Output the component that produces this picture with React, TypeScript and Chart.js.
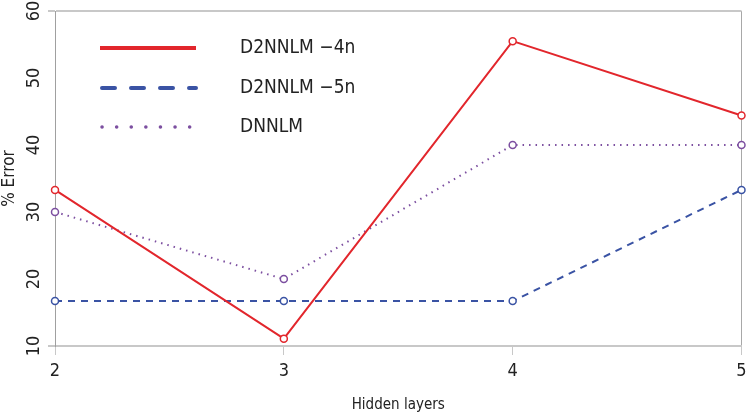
import React, { useEffect, useRef } from "react";
import { Chart, registerables } from "chart.js";

Chart.register(...registerables);

const categories = ["2", "3", "4", "5"];
const d2nnlm4n = [33.3, 11.1, 55.5, 44.4];
const d2nnlm5n = [16.7, 16.7, 16.7, 33.3];
const dnnlm = [30, 20, 40, 40];
const yTicks = [10, 20, 30, 40, 50, 60];
const seriesNames = ["D2NNLM \u22124n", "D2NNLM \u22125n", "DNNLM"];

const RED = "#e2262c";
const BLUE = "#3a53a4";
const PURPLE = "#7c4fa0";
const FONT = "'DejaVu Sans Condensed', 'Open Sans', sans-serif";

export default function App() {
  const ref = useRef<HTMLCanvasElement | null>(null);

  useEffect(() => {
    if (!ref.current) return;

    const framePlugin = {
      id: "framePlugin",
      afterDraw(chart: any) {
        const ctx = chart.ctx;
        const area = chart.chartArea;
        const ys = chart.scales.y;
        ctx.save();
        // y tick labels rotated
        ctx.fillStyle = "#222";
        ctx.font = `18px ${FONT}`;
        ctx.textAlign = "center";
        ctx.textBaseline = "middle";
        yTicks.forEach((v) => {
          const py = ys.getPixelForValue(v);
          ctx.save();
          ctx.translate(34, py);
          ctx.rotate(-Math.PI / 2);
          ctx.fillText(String(v), 0, 0);
          ctx.restore();
        });
        // legend
        const lx0 = area.left + 45;
        const lx1 = area.left + 141;
        const tx = area.left + 185;
        const rows = [
          { y: 48, color: RED, dash: [] as number[], width: 4, cap: "butt" },
          { y: 88, color: BLUE, dash: [13, 16], width: 4, cap: "round" },
          { y: 127, color: PURPLE, dash: [0.1, 14.5], width: 3.5, cap: "round" },
        ];
        rows.forEach((r, i) => {
          ctx.beginPath();
          ctx.strokeStyle = r.color;
          ctx.lineWidth = r.width;
          ctx.lineCap = r.cap;
          ctx.setLineDash(r.dash);
          ctx.moveTo(lx0 + (r.cap === "round" ? 2 : 0), r.y);
          ctx.lineTo(lx1, r.y);
          ctx.stroke();
          ctx.setLineDash([]);
          ctx.fillStyle = "#222";
          ctx.font = `19px ${FONT}`;
          ctx.textAlign = "left";
          ctx.textBaseline = "middle";
          ctx.fillText(seriesNames[i], tx, r.y);
        });
        ctx.restore();
      },
    };

    const chart = new Chart(ref.current, {
      type: "line",
      data: {
        labels: categories,
        datasets: [
          {
            label: seriesNames[0],
            data: d2nnlm4n,
            borderColor: RED,
            borderWidth: 2,
            pointRadius: 3.5,
            pointBorderWidth: 1.5,
            pointBackgroundColor: "#fff",
            pointBorderColor: RED,
            tension: 0,
          },
          {
            label: seriesNames[1],
            data: d2nnlm5n,
            borderColor: BLUE,
            borderWidth: 2,
            borderDash: [7, 6],
            pointRadius: 3.5,
            pointBorderWidth: 1.5,
            pointBackgroundColor: "#fff",
            pointBorderColor: BLUE,
            tension: 0,
          },
          {
            label: seriesNames[2],
            data: dnnlm,
            borderColor: PURPLE,
            borderWidth: 2,
            borderDash: [1.5, 5],
            pointRadius: 3.5,
            pointBorderWidth: 1.5,
            pointBackgroundColor: "#fff",
            pointBorderColor: PURPLE,
            tension: 0,
          },
        ],
      },
      options: {
        responsive: false,
        animation: false,
        devicePixelRatio: 1,
        clip: false,
        layout: { padding: { top: 11, right: 4, left: 0, bottom: 0 } },
        plugins: {
          legend: { display: false },
          tooltip: { enabled: false },
        },
        scales: {
          x: {
            type: "category",
            offset: false,
            border: { display: true, color: "#c8c8c8", width: 2 },
            grid: {
              drawOnChartArea: true,
              color: (c: any) =>
                c.index === categories.length - 1 ? "#a8a8a8" : "rgba(0,0,0,0)",
              tickColor: "#c8c8c8",
              tickLength: 9,
              lineWidth: 1,
            },
            ticks: {
              color: "#222",
              font: { family: FONT, size: 18 },
              padding: 6,
              maxRotation: 0,
            },
            title: {
              display: true,
              text: "Hidden layers",
              color: "#222",
              font: { family: FONT, size: 15 },
              padding: { top: 0, bottom: 3 },
            },
            afterFit: (s: any) => {
              s.height = 71;
              s.paddingRight = 0;
              s.paddingLeft = 0;
            },
          },
          y: {
            min: 10,
            max: 60,
            border: { display: true, color: "#a0a0a0", width: 1 },
            grid: {
              drawOnChartArea: true,
              color: (c: any) =>
                c.tick && (c.tick.value === 10 || c.tick.value === 60)
                  ? "#c8c8c8"
                  : "rgba(0,0,0,0)",
              tickColor: (c: any) =>
                c.tick && (c.tick.value === 10 || c.tick.value === 60)
                  ? "#c8c8c8"
                  : "rgba(0,0,0,0)",
              tickLength: 7,
              lineWidth: 2,
            },
            ticks: {
              stepSize: 10,
              display: false,
            },
            title: {
              display: true,
              text: "% Error",
              color: "#222",
              font: { family: FONT, size: 17 },
              padding: { top: -1, bottom: 0 },
            },
            afterFit: (s: any) => {
              s.width = 55;
            },
          },
        },
      },
      plugins: [framePlugin],
    } as any);

    return () => chart.destroy();
  }, []);

  return (
    <div style={{ position: "fixed", left: 0, top: 0, width: 747, height: 417, background: "#fff" }}>
      <canvas ref={ref} width={747} height={417} style={{ display: "block" }} />
    </div>
  );
}
